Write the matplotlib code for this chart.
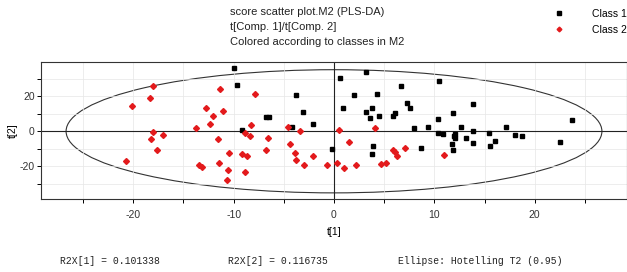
import numpy as np
import matplotlib.pyplot as plt
from matplotlib.patches import Ellipse
from matplotlib.ticker import MultipleLocator, FixedLocator

plt.rcParams['font.family'] = ['Liberation Sans', 'DejaVu Sans']
plt.rcParams['axes.unicode_minus'] = False

# class 1 scores (black squares)
c1_t1 = [-10.0, -9.7, -9.2, -6.8, -6.5, -3.8, -4.2, -3.1, -2.1, -0.2, 0.6, 0.9,
         2.0, 3.2, 3.2, 3.6, 3.8, 4.3, 4.5, 3.9, 3.8, 5.9, 6.1, 6.7, 7.3, 7.6,
         8.0, 8.7, 9.4, 10.5, 10.4, 10.4, 10.9, 11.9, 11.8, 11.9, 12.1, 12.1,
         12.0, 12.7, 13.2, 13.9, 13.9, 13.9, 15.4, 15.5, 16.0, 17.1, 18.0, 18.7,
         22.5, 23.7]
c1_t2 = [36.2, 26.3, 0.6, 8.4, 8.4, 20.6, 2.3, 10.9, 4.2, -10.3, 30.5, 13.5,
         20.7, 33.7, 10.9, 7.4, 13.5, 21.1, 8.7, -8.2, -12.8, 8.9, 10.3, 25.9,
         16.0, 13.5, 1.7, -9.7, 2.3, 28.6, 6.9, -1.1, -1.5, 10.3, -7.3, -10.9,
         -1.3, -3.7, -2.5, 2.3, -3.7, 15.4, 0.2, -6.7, -1.1, -8.2, -5.5, 2.3,
         -2.1, -2.5, -6.1, 6.3]

# class 2 scores (red diamonds)
c2_t1 = [-20.7, -20.1, -18.3, -18.0, -18.0, -18.2, -17.6, -17.0, -13.8, -13.5,
         -13.2, -12.8, -12.1, -12.4, -11.6, -11.5, -11.4, -11.1, -10.5, -10.6,
         -10.7, -9.2, -8.7, -8.9, -8.9, -8.4, -8.3, -7.9, -6.8, -6.6, -4.6,
         -4.4, -3.9, -3.8, -3.4, -3.0, -2.1, -0.7, 0.3, 0.5, 1.0, 1.5, 2.2, 4.1,
         4.7, 5.2, 5.9, 6.1, 6.3, 7.1, 11.0]
c2_t2 = [-16.8, 14.3, 18.9, 26.1, -0.2, -4.6, -10.7, -1.9, 1.9, -19.3, -20.4,
         13.5, 8.9, 4.4, -4.6, -18.3, 24.0, 11.6, -12.2, -21.9, -27.6, -13.0,
         -14.3, -23.4, -0.8, -2.9, 3.4, 21.5, -10.7, -3.8, 2.3, -7.1, -12.2,
         -16.2, 0.2, -19.3, -14.1, -19.3, -18.1, 0.9, -20.8, -5.9, -19.3, 2.1,
         -18.7, -18.3, -10.5, -12.0, -13.9, -9.5, -13.5]

# Hotelling T2 (0.95) ellipse semi-axes
ell_a = 26.7
ell_b = 35.2

title_lines = ['score scatter plot.M2 (PLS-DA)', 't[Comp. 1]/t[Comp. 2]',
               'Colored according to classes in M2']
footer = ['R2X[1] = 0.101338', 'R2X[2] = 0.116735', 'Ellipse: Hotelling T2 (0.95)']

fig = plt.figure(figsize=(6.27, 2.72), dpi=100)
ax = fig.add_axes([41/627, 1 - 199/272, 1 - 41/627, (199 - 62)/272])

ax.set_xlim(-29.2, 29.2)
ax.set_ylim(-38.7, 39.6)
ax.xaxis.set_major_locator(FixedLocator([-20, -10, 0, 10, 20]))
ax.xaxis.set_minor_locator(MultipleLocator(5))
ax.yaxis.set_major_locator(FixedLocator([-20, 0, 20]))
ax.yaxis.set_minor_locator(MultipleLocator(10))
ax.tick_params(which='both', direction='out', length=3, width=0.7,
               labelsize=7.5, labelcolor='#333333', top=False, right=False)
ax.tick_params(axis='x', pad=5)
ax.tick_params(axis='y', pad=1.5)
ax.grid(which='both', color='#e6e6e6', lw=0.5)
for s in ax.spines.values():
    s.set_linewidth(0.8)
    s.set_color('#333333')

ax.axhline(0, color='#222222', lw=0.8)
ax.axvline(0, color='#222222', lw=0.8)
ax.add_patch(Ellipse((0, 0), 2 * ell_a, 2 * ell_b, fill=False,
                     edgecolor='#333333', lw=0.8))

h1, = ax.plot(c1_t1, c1_t2, 's', color='black', ms=3, ls='none')
h2, = ax.plot(c2_t1, c2_t2, 'D', color='#e31a1c', ms=3, ls='none')

ax.set_xlabel('t[1]', fontsize=7.5, labelpad=5)
ax.set_ylabel('t[2]', fontsize=7.5, va='center')
ax.yaxis.set_label_coords(-28/586, 0.5)

for i, line in enumerate(title_lines):
    fig.text(230/627, 1 - (12 + 15*i)/272, line, fontsize=8, va='center',
             color='#222222')

fig.legend([h1, h2], ['Class 1', 'Class 2'], loc='upper left',
           bbox_to_anchor=(553/627, 1 - 9/272), frameon=False, fontsize=7.5,
           handlelength=1.2, handletextpad=2.5, labelspacing=0.55,
           markerscale=0.8, borderpad=0, borderaxespad=0)

for x, t in zip([60, 228, 398], footer):
    fig.text(x/627, 1 - 261/272, t, fontsize=7, family='Liberation Mono',
             va='center', color='#222222')

fig.savefig('out.png', dpi=100)
